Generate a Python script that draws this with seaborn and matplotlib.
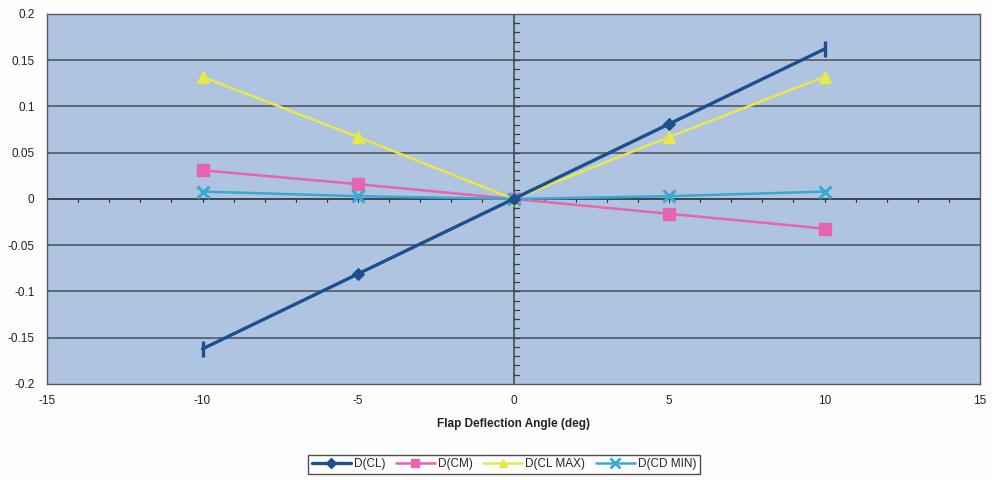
import numpy as np
import pandas as pd
import matplotlib
matplotlib.use("Agg")
import matplotlib.pyplot as plt
from matplotlib.lines import Line2D
import seaborn as sns

# Flap deflection angles (deg) and derivative increments
angle = [-10, -5, 0, 5, 10]
d_cl = [-0.162, -0.081, 0.0, 0.081, 0.162]
d_cm = [0.031, 0.016, 0.0, -0.016, -0.032]
d_clmax = [0.132, 0.067, 0.0, 0.067, 0.132]
d_cdmin = [0.008, 0.003, 0.0, 0.003, 0.008]

series_names = ["D(CL)", "D(CM)", "D(CL MAX)", "D(CD MIN)"]
series_values = [d_cl, d_cm, d_clmax, d_cdmin]
colors = ["#1d4f8e", "#e565b0", "#e8e84a", "#3aa9d2"]
markers = ["D", "s", "^", "x"]
msizes = [6, 8, 8, 9]

sns.set_theme(style="white")
plt.rcParams["font.family"] = ["Liberation Sans", "DejaVu Sans"]

fig = plt.figure(figsize=(9.92, 4.8), dpi=100, facecolor="#fdfdfd")
ax = fig.add_axes([0.0474, 0.2, 0.9405, 0.771])
ax.set_facecolor("#afc4e0")

ax.set_xlim(-15, 15)
ax.set_ylim(-0.2, 0.2)

# horizontal gridlines at major y ticks
for yv in np.arange(-0.15, 0.2, 0.05):
    ax.axhline(yv, color="#4a4f58", lw=1.1, zorder=1)

# axes crossing at the origin, with unit / 0.01 tick marks
ax.axhline(0, color="#3a3f48", lw=1.1, zorder=1)
ax.axvline(0, color="#3a3f48", lw=1.1, zorder=1)
for xv in range(-14, 15):
    if xv != 0:
        ax.plot([xv, xv], [0, -0.003], color="#3a3f48", lw=0.9, zorder=1)
for yv in np.arange(-0.19, 0.2, 0.01):
    if abs(yv) > 1e-9:
        ax.plot([0, 0.18], [yv, yv], color="#3a3f48", lw=0.9, zorder=1)

for name, vals, c, m, ms in zip(series_names, series_values, colors, markers, msizes):
    df = pd.DataFrame({"angle": angle, "value": vals})
    if name == "D(CL)":
        sns.lineplot(data=df, x="angle", y="value", ax=ax, color=c, lw=2.4,
                     marker=m, markersize=ms, markevery=[1, 2, 3],
                     markeredgecolor=c, zorder=5)
        ends = df.iloc[[0, -1]]
        ax.plot(ends["angle"], ends["value"], ls="none", marker="|",
                markersize=12, mew=2.4, color=c, zorder=6)
    else:
        sns.lineplot(data=df, x="angle", y="value", ax=ax, color=c, lw=1.8,
                     marker=m, markersize=ms, markeredgecolor=c,
                     mew=2.2 if m == "x" else 1, zorder=4)

ax.set_xticks(range(-15, 16, 5))
ax.set_xticklabels([str(v) for v in range(-15, 16, 5)])
ax.set_yticks([-0.2, -0.15, -0.1, -0.05, 0, 0.05, 0.1, 0.15, 0.2])
ax.set_yticklabels(["-0.2", "-0.15", "-0.1", "-0.05", "0", "0.05", "0.1", "0.15", "0.2"])
ax.tick_params(axis="both", length=0, labelsize=8.5, colors="#222222")
ax.tick_params(axis="x", pad=8)
ax.tick_params(axis="y", pad=9)
ax.set_xlabel("Flap Deflection Angle (deg)", fontsize=8.5, fontweight="bold",
              color="#222222", labelpad=8)
ax.set_ylabel("")
for s in ax.spines.values():
    s.set_color("#555a62")
    s.set_linewidth(1.0)

handles = [Line2D([0], [0], color=c, lw=1.8 if i else 2.4, marker=m,
                  markersize=ms * 0.8, markeredgecolor=c,
                  mew=2 if m == "x" else 1)
           for i, (c, m, ms) in enumerate(zip(colors, markers, msizes))]
leg = fig.legend(handles, series_names, loc="center", bbox_to_anchor=(0.508, 0.0325),
                 ncol=4, fontsize=8.5, frameon=True, fancybox=False,
                 handlelength=3.3, handletextpad=0.25, columnspacing=0.9,
                 borderpad=0.3)
leg.get_frame().set_edgecolor("#222222")
leg.get_frame().set_linewidth(1.0)
leg.get_frame().set_facecolor("#fdfdfd")

fig.savefig("out.png", dpi=100, facecolor=fig.get_facecolor())
